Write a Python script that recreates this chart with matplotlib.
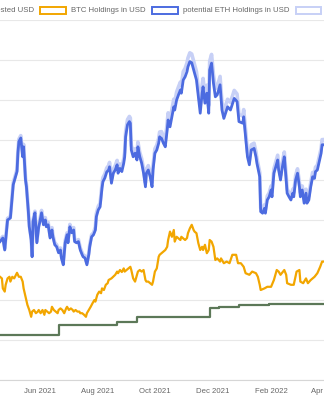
import matplotlib
matplotlib.use('Agg')
import matplotlib.pyplot as plt
import matplotlib.dates as mdates
from matplotlib.patches import Rectangle
import pandas as pd

plt.rcParams['font.family'] = ['Liberation Sans', 'DejaVu Sans']

# ---------------- data (values in thousands of USD, days since start) ----------------
start_date = '2021-04-20'

eth_days = [
    0, 3, 5, 8, 11, 12, 14, 16, 18, 19,
    20, 22, 24, 25, 27, 28, 30, 31, 33, 34,
    35, 37, 39, 41, 42, 44, 46, 48, 49, 51,
    53, 55, 56, 58, 60, 62, 64, 65, 67, 69,
    71, 72, 74, 76, 78, 79, 81, 83, 85, 87,
    88, 90, 92, 94, 95, 97, 99, 101, 102, 104,
    106, 108, 109, 111, 113, 115, 116, 118, 120, 122,
    124, 125, 127, 129, 131, 132, 133, 135, 137, 138,
    139, 141, 143, 145, 146, 148, 150, 152, 154, 155,
    157, 159, 161, 162, 164, 166, 168, 169, 171, 173,
    175, 177, 178, 180, 182, 184, 185, 187, 189, 191,
    192, 194, 196, 198, 199, 201, 203, 205, 206, 208,
    210, 212, 214, 215, 217, 219, 221, 222, 224, 226,
    228, 230, 233, 235, 237, 241, 244, 248, 251, 253,
    257, 258, 260, 262, 264, 266, 269, 271, 272, 275,
    276, 278, 280, 281, 283, 285, 287, 288, 290, 292,
    294, 295, 297, 299, 301, 303, 304, 306, 308, 310,
    311, 313, 315, 317, 318, 320, 322, 324, 325, 327,
    329, 331, 333, 334, 336, 338, 340, 341, 343, 345,
]

eth_usd = [
    3.46, 3.55, 3.25, 4.00, 4.05, 4.33, 4.88, 5.05, 5.21, 5.68,
    5.96, 6.05, 5.58, 5.83, 5.00, 4.83, 4.21, 3.83, 3.50, 3.08,
    3.96, 4.18, 3.43, 3.83, 3.93, 4.18, 3.88, 4.00, 3.83, 3.88,
    3.55, 3.75, 3.58, 3.38, 3.33, 3.18, 3.25, 3.05, 2.88, 3.43,
    3.63, 3.43, 3.83, 3.68, 3.75, 3.46, 3.43, 3.46, 3.25, 3.13,
    3.08, 3.05, 2.88, 3.13, 3.33, 3.58, 3.63, 3.75, 4.08, 4.25,
    4.33, 4.80, 4.96, 5.05, 5.20, 5.25, 5.33, 4.92, 5.17, 5.25,
    5.38, 5.17, 5.29, 5.21, 5.42, 5.58, 6.08, 6.38, 6.46, 6.42,
    5.75, 5.58, 5.67, 5.50, 5.83, 5.58, 5.42, 5.17, 4.83, 5.17,
    5.25, 5.08, 4.83, 5.25, 5.67, 5.75, 5.92, 6.08, 6.04, 5.92,
    5.83, 6.25, 6.50, 6.33, 6.58, 6.83, 6.75, 7.00, 7.13, 7.25,
    7.17, 7.50, 7.58, 7.71, 7.83, 7.96, 7.93, 7.75, 7.67, 7.50,
    7.08, 6.67, 7.17, 7.33, 6.92, 7.17, 6.67, 7.75, 7.92, 7.42,
    7.08, 7.13, 7.38, 6.75, 6.54, 6.83, 6.75, 7.04, 6.96, 6.46,
    6.42, 6.58, 6.08, 5.58, 5.38, 5.75, 5.79, 5.58, 5.42, 5.08,
    4.21, 4.17, 4.29, 4.17, 4.50, 4.58, 4.75, 4.58, 5.17, 5.33,
    5.50, 5.25, 5.00, 5.33, 5.58, 5.00, 4.67, 4.58, 4.50, 4.67,
    4.58, 5.00, 5.17, 4.83, 4.58, 4.75, 4.42, 4.67, 4.42, 4.50,
    4.83, 5.08, 5.04, 5.21, 5.25, 5.46, 5.67, 5.88, 5.88, 5.90,
]

eth_staked_usd = [
    3.50, 3.59, 3.28, 4.04, 4.09, 4.37, 4.93, 5.10, 5.26, 5.74,
    6.02, 6.11, 5.64, 5.89, 5.05, 4.88, 4.25, 3.87, 3.54, 3.11,
    4.00, 4.22, 3.46, 3.89, 3.99, 4.24, 3.94, 4.06, 3.89, 3.94,
    3.60, 3.81, 3.63, 3.43, 3.38, 3.23, 3.30, 3.10, 2.92, 3.48,
    3.68, 3.48, 3.89, 3.74, 3.81, 3.51, 3.48, 3.51, 3.30, 3.18,
    3.13, 3.10, 2.92, 3.18, 3.38, 3.63, 3.68, 3.83, 4.16, 4.34,
    4.42, 4.90, 5.06, 5.15, 5.30, 5.36, 5.44, 5.02, 5.27, 5.36,
    5.49, 5.27, 5.40, 5.31, 5.53, 5.69, 6.20, 6.51, 6.59, 6.55,
    5.87, 5.69, 5.78, 5.61, 5.95, 5.69, 5.53, 5.27, 4.93, 5.27,
    5.36, 5.18, 4.93, 5.36, 5.78, 5.87, 6.04, 6.20, 6.21, 6.09,
    5.99, 6.43, 6.68, 6.51, 6.76, 7.02, 6.94, 7.20, 7.33, 7.45,
    7.37, 7.71, 7.79, 7.93, 8.05, 8.18, 8.15, 7.97, 7.88, 7.71,
    7.28, 6.86, 7.37, 7.54, 7.11, 7.37, 6.86, 7.97, 8.14, 7.63,
    7.28, 7.33, 7.59, 6.94, 6.72, 7.02, 6.94, 7.24, 7.15, 6.64,
    6.60, 6.76, 6.25, 5.70, 5.50, 5.88, 5.92, 5.70, 5.54, 5.19,
    4.30, 4.26, 4.38, 4.26, 4.60, 4.68, 4.85, 4.68, 5.28, 5.45,
    5.62, 5.37, 5.11, 5.45, 5.70, 5.11, 4.77, 4.68, 4.60, 4.77,
    4.68, 5.11, 5.28, 4.94, 4.68, 4.85, 4.52, 4.77, 4.52, 4.60,
    4.94, 5.19, 5.15, 5.32, 5.37, 5.58, 5.79, 6.01, 6.01, 6.03,
]

btc_days = [
    0, 2, 3, 5, 6, 8, 10, 11, 13, 15,
    17, 18, 20, 22, 24, 25, 27, 29, 31, 33,
    34, 36, 38, 40, 41, 43, 45, 47, 48, 50,
    52, 54, 55, 57, 59, 61, 62, 64, 66, 68,
    70, 71, 73, 75, 77, 78, 80, 82, 84, 85,
    87, 89, 91, 92, 94, 96, 98, 100, 101, 103,
    105, 107, 108, 110, 112, 114, 115, 118, 122, 124,
    125, 127, 129, 131, 132, 134, 136, 138, 139, 141,
    143, 145, 146, 148, 150, 152, 154, 155, 157, 159,
    161, 162, 164, 166, 168, 169, 171, 173, 175, 177,
    178, 180, 182, 184, 185, 187, 189, 191, 192, 194,
    196, 198, 199, 201, 203, 205, 206, 208, 210, 212,
    214, 215, 217, 219, 221, 222, 224, 226, 228, 230,
    233, 234, 237, 240, 243, 246, 250, 252, 255, 258,
    260, 264, 267, 271, 273, 275, 276, 280, 283, 287,
    290, 293, 295, 297, 301, 303, 304, 308, 311, 314,
    317, 318, 321, 324, 326, 329, 333, 336, 339, 341,
    343, 345,
]

btc_usd = [
    2.58, 2.54, 2.29, 2.21, 2.38, 2.54, 2.58, 2.46, 2.58, 2.54,
    2.63, 2.68, 2.58, 2.58, 2.46, 2.29, 2.08, 1.88, 1.75, 1.58,
    1.71, 1.75, 1.67, 1.71, 1.75, 1.67, 1.75, 1.63, 1.75, 1.71,
    1.67, 1.71, 1.83, 1.75, 1.71, 1.67, 1.75, 1.79, 1.75, 1.67,
    1.79, 1.83, 1.75, 1.79, 1.75, 1.71, 1.75, 1.71, 1.71, 1.67,
    1.67, 1.63, 1.58, 1.67, 1.75, 1.83, 1.92, 2.00, 1.96, 2.13,
    2.21, 2.17, 2.29, 2.25, 2.38, 2.42, 2.50, 2.54, 2.63, 2.71,
    2.67, 2.75, 2.70, 2.79, 2.71, 2.75, 2.79, 2.83, 2.75, 2.54,
    2.46, 2.63, 2.71, 2.75, 2.71, 2.75, 2.50, 2.46, 2.46, 2.42,
    2.38, 2.46, 2.71, 2.79, 3.08, 3.13, 3.17, 3.21, 3.25, 3.33,
    3.50, 3.71, 3.58, 3.75, 3.46, 3.58, 3.54, 3.50, 3.58, 3.54,
    3.50, 3.55, 3.67, 3.79, 3.88, 3.75, 3.71, 3.67, 3.42, 3.25,
    3.33, 3.25, 3.38, 3.17, 3.25, 3.50, 3.46, 3.33, 3.00, 3.04,
    2.96, 3.04, 2.92, 2.96, 2.92, 3.13, 3.13, 2.92, 2.92, 2.83,
    2.67, 2.63, 2.71, 2.67, 2.58, 2.38, 2.25, 2.29, 2.33, 2.33,
    2.50, 2.75, 2.71, 2.63, 2.75, 2.63, 2.42, 2.38, 2.38, 2.71,
    2.75, 2.46, 2.42, 2.54, 2.42, 2.50, 2.58, 2.67, 2.83, 2.96,
    2.96, 2.98,
]

invested_days = [0, 23, 62, 124, 145, 222, 232, 253, 285, 345]
invested_usd = [1.12, 1.13, 1.375, 1.44, 1.58, 1.79, 1.83, 1.875, 1.89, 1.89]

series_labels = ['Invested USD', 'BTC Holdings in USD',
                 'potential ETH Holdings in USD', 'potential staked ETH Holdings in USD']
tick_dates = ['2021-06-01', '2021-08-01', '2021-10-01', '2021-12-01', '2022-02-01', '2022-04-01']
tick_labels = ['Jun 2021', 'Aug 2021', 'Oct 2021', 'Dec 2021', 'Feb 2022', 'Apr 2022']

# ---------------- styling ----------------
C_GREEN = '#5c7858'
C_ORANGE = '#f2a600'
C_BLUE = '#4c6be0'
C_LIGHT = '#c7d0f6'
C_TEXT = '#666666'
C_GRID = '#e8e8e8'

W, H = 324, 400
fig = plt.figure(figsize=(W / 100, H / 100), dpi=100)
ax = fig.add_axes([-60 / W, 20 / H, 460 / W, 360 / H])

start = pd.Timestamp(start_date)
t0 = mdates.date2num(start)
px_per_day = 0.9445
ax.set_xlim(t0 - 60 / px_per_day, t0 + 400 / px_per_day)
ax.set_ylim(0, 9)


def to_dates(days):
    return start + pd.to_timedelta(days, unit='D')


ax.plot(to_dates(eth_days), eth_staked_usd, color=C_LIGHT, lw=2.6,
        solid_joinstyle='round', zorder=2)
ax.plot(to_dates(eth_days), eth_usd, color=C_BLUE, lw=2.0,
        solid_joinstyle='round', zorder=3)
ax.plot(to_dates(btc_days), btc_usd, color=C_ORANGE, lw=1.6,
        solid_joinstyle='round', zorder=3)
ax.plot(to_dates(invested_days), invested_usd, color=C_GREEN, lw=1.6,
        drawstyle='steps-post', zorder=3)

ax.set_yticks(range(0, 10))
ax.yaxis.grid(True, color=C_GRID, lw=0.8)
ax.set_axisbelow(True)
ax.tick_params(axis='y', length=0, labelleft=False)

ax.set_xticks(mdates.date2num(pd.to_datetime(tick_dates)))
ax.set_xticklabels(tick_labels)
ax.tick_params(axis='x', length=0, pad=6, labelsize=5.6, labelcolor=C_TEXT)

for s in ['top', 'left', 'right']:
    ax.spines[s].set_visible(False)
ax.spines['bottom'].set_color('#d6d6d6')
ax.spines['bottom'].set_linewidth(0.8)

# ---------------- legend (Chart.js style boxes) ----------------
legend_colors = [C_GREEN, C_ORANGE, C_BLUE, C_LIGHT]
box_left_px = [-45.0, 40.0, 152.0, 295.7]
box_w, box_h, box_top = 25.7, 7.6, 6.7
text_y = 10.5
for lab, col, bx in zip(series_labels, legend_colors, box_left_px):
    fig.patches.append(Rectangle((bx / W, 1 - (box_top + box_h) / H), box_w / W, box_h / H,
                                 transform=fig.transFigure, facecolor='white',
                                 edgecolor=col, lw=1.4))
    fig.text((bx + box_w + 5) / W, 1 - text_y / H, lab, fontsize=5.6, color=C_TEXT,
             ha='left', va='center')

fig.savefig('out.png', dpi=100)
